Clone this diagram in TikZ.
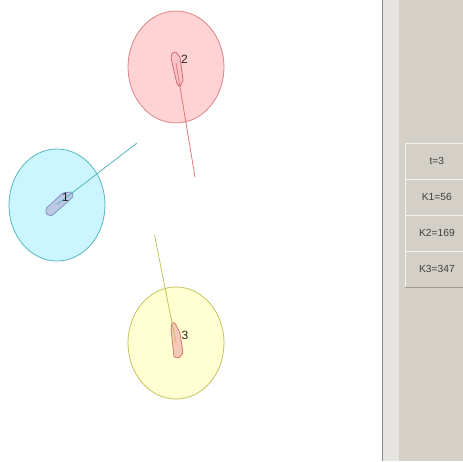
\documentclass[tikz,border=0pt]{standalone}
\usepackage{fontspec}
\setmainfont{Liberation Sans}
\usetikzlibrary{shapes.geometric}
\definecolor{panelc}{HTML}{D4D0C8}
\definecolor{ditherc}{HTML}{E6E4E0}
\definecolor{cellline}{HTML}{F4F3F0}
\definecolor{shadowc}{HTML}{A09C94}
\definecolor{edgedark}{HTML}{8E8A84}
\definecolor{bluefill}{HTML}{CCF6FF}
\definecolor{blueline}{HTML}{55B8C0}
\definecolor{pinkfill}{HTML}{FFD2D4}
\definecolor{pinkline}{HTML}{DE8488}
\definecolor{yellowfill}{HTML}{FFFFD2}
\definecolor{yellowline}{HTML}{C4C460}
\definecolor{bluecaps}{HTML}{BCC8E4}
\definecolor{bluecapsline}{HTML}{7F94C4}
\definecolor{pinkcaps}{HTML}{F8C4C8}
\definecolor{pinkcapsline}{HTML}{D06C74}
\definecolor{yelcaps}{HTML}{F6C8B8}
\definecolor{yelcapsline}{HTML}{D07C70}
\newcommand{\celltext}[1]{\hspace*{5pt}\raisebox{-1pt}{#1}}
\tikzset{
  x=1pt,y=-1pt,
  disc/.style={ellipse,minimum width=96pt,minimum height=112pt,inner sep=0pt,line width=0.8pt},
  capsule/.style={line width=0.8pt,line join=round,rounded corners=1pt},
  needle/.style={line width=0.8pt},
  tag/.style={font=\fontsize{12}{12}\selectfont,text=black!85,inner sep=0pt},
  cell/.style={minimum width=58pt,minimum height=36pt,inner sep=0pt,anchor=north west,font=\fontsize{10.3}{11}\selectfont,text=black!75,draw=cellline,line width=0.8pt}
}
\begin{document}
\begin{tikzpicture}
\useasboundingbox (0,0) rectangle (463,461);
\fill[white] (0,0) rectangle (463,461);
% side panel
\fill[panelc] (382,0) rectangle (463,461);
\fill[ditherc] (383,0) rectangle (399,461);
\draw[edgedark,line width=0.9pt] (382,0) -- (382,461);
% discs
\node[disc,draw=blueline,fill=bluefill] (d1) at (57,205) {};
\node[disc,draw=pinkline,fill=pinkfill] (d2) at (176,67) {};
\node[disc,draw=yellowline,fill=yellowfill] (d3) at (176,343) {};
% capsules
\draw[capsule,draw=bluecapsline,fill=bluecaps] (46,208.5) -- (63,192.8) -- (72.8,192) -- (72.8,197) -- (63.5,205.5) -- (51,216.2) -- (46,213.5) -- cycle;
\draw[capsule,draw=pinkcapsline,fill=pinkcaps] (171,58) -- (172,53) -- (176,52) -- (180,57) -- (183,80) -- (180,87) -- (177,84) -- cycle;
\draw[capsule,draw=yelcapsline,fill=yelcaps] (171,329) -- (172,322.5) -- (175,323) -- (180,333) -- (183,353) -- (179,358) -- (174,357) -- cycle;
% headings
\coordinate (c1) at (57,204.5);
\coordinate (e1) at (137,143);
\coordinate (c2) at (176,63);
\coordinate (e2) at (195,177);
\coordinate (c3) at (176,343);
\coordinate (e3) at (154.5,235);
\draw[needle,blueline] (c1) -- (e1);
\draw[needle,pinkline!90!red] (c2) -- (e2);
\draw[needle,yellowline] (c3) -- (e3);
% labels
\node[tag] (l1) at (65.5,197.5) {1};
\node[tag] (l2) at (184.5,59.5) {2};
\node[tag] (l3) at (185,335) {3};
% cells
\node[cell] (t) at (405,143) {\celltext{t=3}};
\node[cell] (k1) at (405,179) {\celltext{K1=56}};
\node[cell] (k2) at (405,215) {\celltext{K2=169}};
\node[cell] (k3) at (405,251) {\celltext{K3=347}};
\draw[shadowc,line width=1.2pt] (405,287.3) -- (463,287.3);
\end{tikzpicture}
\end{document}
